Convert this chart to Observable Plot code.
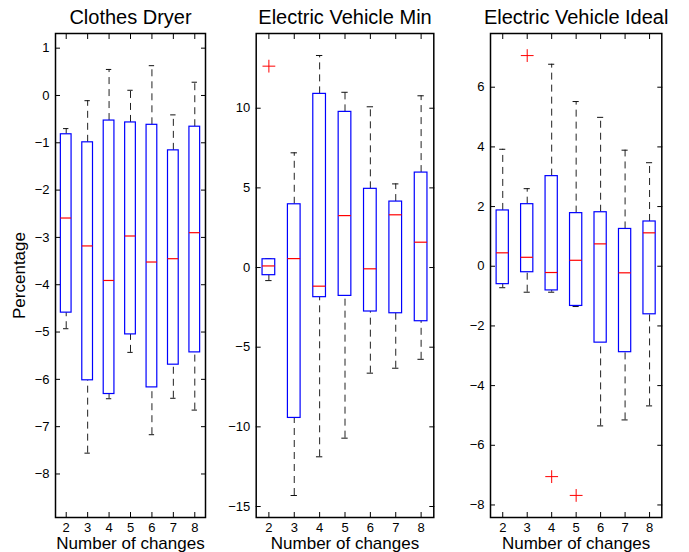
<!DOCTYPE html>
<html>
<head>
<meta charset="utf-8">
<script src="https://cdn.jsdelivr.net/npm/d3@7"></script>
<script src="https://cdn.jsdelivr.net/npm/@observablehq/plot@0.6"></script>
<style>
  html, body { margin: 0; padding: 0; background: white; }
  #chart { position: relative; width: 689px; height: 552px; }
  #chart svg { position: absolute; top: 0; }
</style>
</head>
<body>
<div id="chart"></div>
<script>
const categories = [2, 3, 4, 5, 6, 7, 8];
const xLabel = "Number of changes";
const yLabel = "Percentage";

// Clothes Dryer
const dryerTitle = "Clothes Dryer";
const dryerLo  = [-4.93, -7.56, -6.41, -5.43, -7.17, -6.40, -6.65];
const dryerQ1  = [-4.59, -6.02, -6.31, -5.05, -6.17, -5.69, -5.43];
const dryerMed = [-2.59, -3.18, -3.91, -2.97, -3.52, -3.45, -2.90];
const dryerQ3  = [-0.82, -0.99, -0.53, -0.57, -0.62, -1.16, -0.66];
const dryerHi  = [-0.70, -0.11, 0.55, 0.11, 0.63, -0.41, 0.28];
const dryerOutCat = [];
const dryerOutVal = [];
const dryerTicks = [-8, -7, -6, -5, -4, -3, -2, -1, 0, 1];

// Electric Vehicle Min
const minTitle = "Electric Vehicle Min";
const minLo  = [-0.82, -14.31, -11.88, -10.71, -6.63, -6.32, -5.76];
const minQ1  = [-0.48, -9.44, -1.86, -1.78, -2.76, -2.87, -3.37];
const minMed = [0.10, 0.56, -1.17, 3.26, -0.08, 3.31, 1.59];
const minQ3  = [0.52, 3.97, 10.90, 9.77, 4.94, 4.14, 5.96];
const minHi  = [0.55, 7.20, 13.31, 11.00, 10.09, 5.25, 10.78];
const minOutCat = [2];
const minOutVal = [12.64];
const minTicks = [-15, -10, -5, 0, 5, 10];

// Electric Vehicle Ideal
const idealTitle = "Electric Vehicle Ideal";
const idealLo  = [-0.72, -0.87, -0.87, -1.35, -5.35, -5.15, -4.68];
const idealQ1  = [-0.60, -0.20, -0.81, -1.33, -2.56, -2.88, -1.61];
const idealMed = [0.45, 0.30, -0.21, 0.20, 0.75, -0.22, 1.12];
const idealQ3  = [1.87, 2.08, 3.02, 1.78, 1.81, 1.25, 1.50];
const idealHi  = [3.92, 2.60, 6.77, 5.52, 4.99, 3.89, 3.47];
const idealOutCat = [3, 4, 5];
const idealOutVal = [7.06, -7.05, -7.68];
const idealTicks = [-8, -6, -4, -2, 0, 2, 4, 6];

const FONT = "'Liberation Sans', Arial, Helvetica, sans-serif";
const HEIGHT = 552, MT = 33, MB = 35;

function panel(cfg) {
  const rows = categories.map((c, i) => ({
    cat: c, lo: cfg.lo[i], q1: cfg.q1[i], med: cfg.med[i], q3: cfg.q3[i], hi: cfg.hi[i]
  }));
  const outs = cfg.outCat.map((c, i) => ({cat: c, v: cfg.outVal[i]}));
  const hw = 0.25, cw = 0.125;
  const marks = [
    // whiskers
    Plot.ruleX(rows, {x: "cat", y1: "q3", y2: "hi", stroke: "#222", strokeWidth: 1, strokeDasharray: "7,5"}),
    Plot.ruleX(rows, {x: "cat", y1: "lo", y2: "q1", stroke: "#222", strokeWidth: 1, strokeDasharray: "7,5"}),
    // caps
    Plot.ruleY(rows, {y: "hi", x1: d => d.cat - cw, x2: d => d.cat + cw, stroke: "#111", strokeWidth: 1}),
    Plot.ruleY(rows, {y: "lo", x1: d => d.cat - cw, x2: d => d.cat + cw, stroke: "#111", strokeWidth: 1}),
    // boxes
    Plot.rect(rows, {x1: d => d.cat - hw, x2: d => d.cat + hw, y1: "q1", y2: "q3", fill: "white", stroke: "#0000ff", strokeWidth: 1.2}),
    // medians
    Plot.ruleY(rows, {y: "med", x1: d => d.cat - hw, x2: d => d.cat + hw, stroke: "#ff0000", strokeWidth: 1.2}),
    // outliers
    Plot.dot(outs, {x: "cat", y: "v", symbol: "plus", r: 4.2, stroke: "#ff0000", strokeWidth: 1}),
    // axes: labels
    Plot.axisY(cfg.ticks, {anchor: "left", tickSize: 0, tickPadding: 6, fontSize: 13, label: null, tickFormat: d => d.toString().replace("-", "\u2212")}),
    Plot.axisX(categories, {anchor: "bottom", tickSize: 0, tickPadding: 5, fontSize: 13, label: null}),
    // inward ticks
    Plot.axisY(cfg.ticks, {anchor: "left", tickSize: -5, fill: "none", label: null}),
    Plot.axisY(cfg.ticks, {anchor: "right", tickSize: -5, fill: "none", label: null}),
    Plot.axisX(categories, {anchor: "bottom", tickSize: -5, fill: "none", label: null}),
    Plot.axisX(categories, {anchor: "top", tickSize: -5, fill: "none", label: null}),
    Plot.frame({stroke: "black", strokeWidth: 1.5}),
    // title and x label
    Plot.text([cfg.title], {frameAnchor: "top", lineAnchor: "bottom", dy: -10, fontSize: 20, fill: "black", text: d => d}),
    Plot.text([xLabel], {frameAnchor: "bottom", lineAnchor: "bottom", dy: 31, fontSize: 17, fill: "black", text: d => d})
  ];
  if (cfg.ylabel) {
    marks.push(Plot.text([cfg.ylabel], {frameAnchor: "left", rotate: -90, lineAnchor: "middle", textAnchor: "middle", dx: -cfg.marginLeft + 19, fontSize: 17, fill: "black", text: d => d}));
  }
  const svg = Plot.plot({
    width: cfg.width,
    height: HEIGHT,
    marginLeft: cfg.marginLeft,
    marginRight: cfg.marginRight,
    marginTop: MT,
    marginBottom: MB,
    style: {fontFamily: FONT, fontSize: "13px", background: "transparent", color: "black", overflow: "visible"},
    x: {type: "linear", domain: [1.5, 8.5]},
    y: {type: "linear", domain: cfg.domain},
    marks
  });
  svg.style.left = cfg.left + "px";
  return svg;
}

const root = document.getElementById("chart");
root.appendChild(panel({
  title: dryerTitle, lo: dryerLo, q1: dryerQ1, med: dryerMed, q3: dryerQ3, hi: dryerHi,
  outCat: dryerOutCat, outVal: dryerOutVal, ticks: dryerTicks, domain: [-8.92, 1.31],
  left: 0, width: 230, marginLeft: 55, marginRight: 25, ylabel: yLabel
}));
root.appendChild(panel({
  title: minTitle, lo: minLo, q1: minQ1, med: minMed, q3: minQ3, hi: minHi,
  outCat: minOutCat, outVal: minOutVal, ticks: minTicks, domain: [-15.69, 14.69],
  left: 230, width: 230, marginLeft: 25.7, marginRight: 26.7
}));
root.appendChild(panel({
  title: idealTitle, lo: idealLo, q1: idealQ1, med: idealMed, q3: idealQ3, hi: idealHi,
  outCat: idealOutCat, outVal: idealOutVal, ticks: idealTicks, domain: [-8.42, 7.80],
  left: 460, width: 229, marginLeft: 30, marginRight: 27.7
}));
</script>
</body>
</html>
